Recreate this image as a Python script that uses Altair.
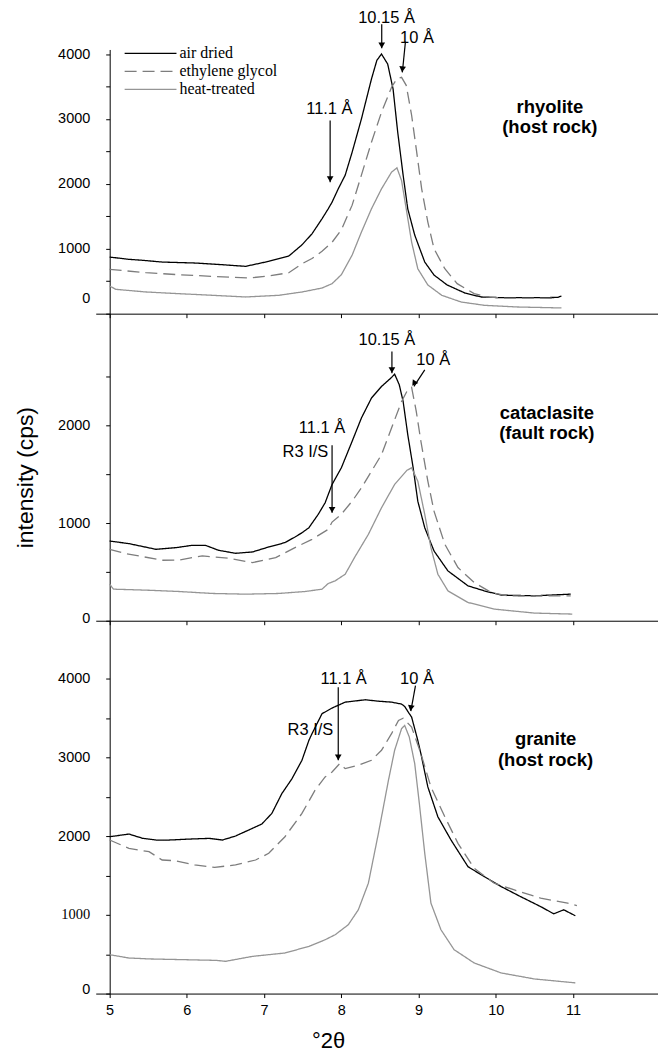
import altair as alt
import pandas as pd

SERIES = ["air dried", "ethylene glycol", "heat-treated"]
COLORS = ["#000000", "#7d7d7d", "#959595"]
DASHES = [[1, 0], [12, 6], [1, 0]]
WIDTHS = [1.3, 1.3, 1.7]
X_TICKS = [5, 6, 7, 8, 9, 10, 11]

# ---------------- rhyolite (host rock) ----------------
rh_ad_x = [5.0, 5.25, 5.43, 5.68, 6.11, 6.46, 6.76, 7.06, 7.32, 7.49, 7.62, 7.75, 7.83, 7.88, 7.96, 8.05, 8.14, 8.26, 8.39, 8.46, 8.52, 8.6, 8.67, 8.73, 8.8, 8.86, 8.95, 9.08, 9.2, 9.37, 9.6, 9.81, 10.07, 10.5, 10.8, 10.85]
rh_ad_y = [872, 837, 822, 795, 780, 754, 729, 806, 888, 1060, 1230, 1462, 1615, 1718, 1923, 2134, 2488, 3000, 3615, 3903, 4000, 3846, 3461, 2795, 2134, 1615, 1211, 795, 595, 442, 318, 257, 246, 246, 250, 272]
rh_eg_x = [5.0, 5.47, 5.9, 6.33, 6.8, 7.06, 7.32, 7.49, 7.62, 7.75, 7.88, 8.0, 8.14, 8.26, 8.39, 8.52, 8.65, 8.72, 8.78, 8.84, 8.91, 8.97, 9.04, 9.12, 9.2, 9.34, 9.5, 9.72, 9.9, 10.1, 10.78]
rh_eg_y = [683, 631, 600, 575, 549, 580, 631, 769, 850, 960, 1100, 1290, 1672, 2134, 2642, 3103, 3488, 3620, 3641, 3518, 3057, 2538, 1923, 1411, 1000, 692, 462, 308, 257, 240, 237]
rh_ht_x = [5.0, 5.08, 5.47, 5.9, 6.33, 6.76, 7.19, 7.49, 7.75, 7.88, 8.0, 8.14, 8.26, 8.39, 8.52, 8.65, 8.72, 8.78, 8.84, 8.91, 8.99, 9.12, 9.3, 9.55, 9.85, 10.28, 10.85]
rh_ht_y = [426, 375, 334, 308, 283, 257, 283, 334, 395, 462, 600, 903, 1257, 1615, 1923, 2180, 2246, 2050, 1615, 1103, 692, 442, 283, 180, 129, 103, 88]

# ---------------- cataclasite (fault rock) ----------------
ca_ad_x = [5.0, 5.25, 5.6, 5.86, 6.07, 6.24, 6.41, 6.63, 6.85, 7.06, 7.19, 7.27, 7.4, 7.49, 7.58, 7.7, 7.79, 7.88, 8.0, 8.14, 8.26, 8.39, 8.52, 8.65, 8.69, 8.75, 8.8, 8.86, 8.93, 8.99, 9.08, 9.2, 9.38, 9.64, 9.85, 10.07, 10.5, 10.97]
ca_ad_y = [816, 789, 731, 748, 772, 772, 721, 690, 704, 755, 782, 800, 857, 900, 952, 1088, 1207, 1395, 1565, 1837, 2075, 2279, 2398, 2490, 2524, 2415, 2245, 1905, 1565, 1224, 952, 714, 510, 357, 306, 262, 255, 272]
ca_eg_x = [5.0, 5.21, 5.38, 5.68, 5.9, 6.2, 6.54, 6.85, 7.15, 7.4, 7.62, 7.83, 7.88, 8.0, 8.14, 8.26, 8.39, 8.52, 8.65, 8.78, 8.85, 8.91, 8.97, 9.03, 9.12, 9.2, 9.34, 9.51, 9.72, 9.94, 10.15, 10.97]
ca_eg_y = [731, 687, 663, 619, 622, 663, 639, 595, 646, 748, 833, 935, 1010, 1090, 1224, 1360, 1530, 1700, 1973, 2245, 2350, 2388, 2143, 1837, 1429, 1122, 782, 544, 391, 289, 255, 255]
ca_ht_x = [5.0, 5.05, 5.47, 5.9, 6.33, 6.76, 7.19, 7.53, 7.75, 7.83, 7.92, 8.05, 8.17, 8.35, 8.52, 8.69, 8.85, 8.91, 8.99, 9.08, 9.16, 9.25, 9.38, 9.64, 9.98, 10.5, 10.99]
ca_ht_y = [374, 323, 313, 299, 279, 272, 279, 299, 323, 381, 408, 476, 646, 884, 1156, 1395, 1540, 1565, 1429, 1088, 748, 476, 306, 187, 119, 78, 68]

# ---------------- granite (host rock) ----------------
gr_ad_x = [5.0, 5.25, 5.43, 5.6, 5.77, 6.03, 6.29, 6.46, 6.63, 6.8, 6.97, 7.1, 7.23, 7.36, 7.49, 7.58, 7.62, 7.75, 7.88, 8.05, 8.31, 8.48, 8.65, 8.78, 8.82, 8.88, 8.91, 8.99, 9.03, 9.12, 9.25, 9.42, 9.64, 9.85, 10.07, 10.32, 10.58, 10.75, 10.88, 11.03]
gr_ad_y = [1994, 2028, 1973, 1952, 1952, 1964, 1973, 1952, 2003, 2079, 2155, 2290, 2543, 2730, 2966, 3219, 3304, 3558, 3630, 3705, 3735, 3717, 3705, 3680, 3650, 3558, 3515, 3219, 3050, 2627, 2247, 1952, 1613, 1487, 1360, 1233, 1106, 1014, 1065, 989]
gr_eg_x = [5.0, 5.25, 5.51, 5.68, 5.85, 6.1, 6.36, 6.63, 6.89, 7.06, 7.27, 7.49, 7.66, 7.79, 7.88, 7.98, 8.05, 8.22, 8.39, 8.52, 8.65, 8.74, 8.8, 8.91, 9.03, 9.16, 9.34, 9.51, 9.72, 9.98, 10.24, 10.58, 10.93, 11.05]
gr_eg_y = [1952, 1846, 1804, 1698, 1689, 1635, 1605, 1635, 1698, 1783, 1994, 2290, 2586, 2754, 2817, 2924, 2860, 2902, 2966, 3093, 3304, 3473, 3500, 3388, 3050, 2627, 2247, 1910, 1593, 1403, 1318, 1213, 1150, 1119]
gr_ht_x = [5.0, 5.25, 5.53, 5.96, 6.38, 6.5, 6.85, 7.27, 7.58, 7.79, 7.92, 8.09, 8.22, 8.35, 8.48, 8.61, 8.69, 8.78, 8.82, 8.88, 8.95, 9.01, 9.08, 9.16, 9.29, 9.46, 9.72, 10.07, 10.5, 11.03]
gr_ht_y = [494, 452, 440, 431, 422, 410, 473, 516, 600, 684, 748, 875, 1065, 1403, 2037, 2712, 3093, 3368, 3409, 3261, 2924, 2417, 1783, 1150, 811, 558, 389, 262, 186, 136]

# ---------------- annotations ----------------
rh_lab = ["10.15 Å", "10 Å", "11.1 Å"]
rh_lab_x = [8.585, 8.98, 7.845]
rh_lab_y = [4552, 4253, 3154]
rh_name = ["rhyolite", "(host rock)"]
rh_name_x = [10.7, 10.7]
rh_name_y = [3190, 2880]
rh_arr_x = [8.523, 8.83, 7.855]
rh_arr_y = [4457, 4191, 2975]
rh_arr_x2 = [8.523, 8.79, 7.855]
rh_arr_y2 = [4088, 3718, 2026]
rh_arr_ang = [0, 6, 0]

ca_lab = ["10.15 Å", "10 Å", "11.1 Å", "R3 I/S"]
ca_lab_x = [8.59, 9.19, 7.75, 7.535]
ca_lab_y = [2871, 2673, 1969, 1730]
ca_name = ["cataclasite", "(fault rock)"]
ca_name_x = [10.66, 10.66]
ca_name_y = [2130, 1918]
ca_arr_x = [8.655, 9.08, 7.88]
ca_arr_y = [2755, 2568, 1796]
ca_arr_x2 = [8.655, 8.94, 7.88]
ca_arr_y2 = [2534, 2398, 1105]
ca_arr_ang = [0, 34, 0]

gr_lab = ["11.1 Å", "R3 I/S", "10 Å"]
gr_lab_x = [8.03, 7.6, 8.98]
gr_lab_y = [3995, 3352, 3996]
gr_name = ["granite", "(host rock)"]
gr_name_x = [10.645, 10.645]
gr_name_y = [3233, 2973]
gr_arr_x = [7.96, 8.96]
gr_arr_y = [3895, 3916]
gr_arr_x2 = [7.96, 8.90]
gr_arr_y2 = [2966, 3591]
gr_arr_ang = [0, 10]


def lines_df(xs_list, ys_list):
    frames = [pd.DataFrame({"series": n, "x": xs, "y": ys}) for n, xs, ys in zip(SERIES, xs_list, ys_list)]
    return pd.concat(frames, ignore_index=True)


def make_panel(df, ymax, height, yvals, lab, lab_x, lab_y, name, name_x, name_y,
               ax, ay, ax2, ay2, ang, top=False, bottom=False, ytitle=False,
               zero_offset=0, serif1000=False):
    xscale = alt.Scale(domain=[4.82, 12.1], nice=False, zero=False)
    yscale = alt.Scale(domain=[0, ymax], nice=False, zero=False)
    xkw = dict(values=X_TICKS, format="d", labels=bottom, ticks=True, tickSize=4,
               labelPadding=6, labelFlush=False, labelOverlap=False, grid=False,
               labelFontSize=14.5, labelFont="Liberation Sans")
    if bottom:
        xkw.update(title="°2θ", titleFontSize=22, titleFontWeight="normal",
                   titleX=233, titleY=47, titleBaseline="middle", titleAlign="center")
    else:
        xkw.update(title=None)
    ykw = dict(values=yvals, labelExpr="datum.value % 1000 == 0 ? datum.label : ''",
               format="d", offset=-14, tickSize=4, labelPadding=16, grid=False,
               labelFlush=False, labelOverlap=False, labelFontSize=14.5,
               labelFont="Liberation Sans",
               labelOffset={"condition": {"test": "datum.value == 0", "value": zero_offset}, "value": 0})
    if serif1000:
        ykw["labelFont"] = {"condition": {"test": "datum.value == 1000", "value": "Liberation Serif"},
                            "value": "Liberation Sans"}
    if ytitle:
        ykw.update(title="intensity (cps)", titleFontSize=23, titleFontWeight="normal",
                   titlePadding=20, titleY=164)
    else:
        ykw.update(title=None)
    X = alt.X("x:Q", scale=xscale, axis=alt.Axis(**xkw))
    Y = alt.Y("y:Q", scale=yscale, axis=alt.Axis(**ykw))

    if top:
        leg = alt.Legend(orient="none", legendX=47, legendY=-4, title=None,
                         symbolType="M-4,0H4", symbolSize=169, symbolStrokeWidth=1.4,
                         labelFont="Liberation Serif", labelFontSize=16, labelColor="black",
                         labelOffset=21, rowPadding=2, padding=0)
    else:
        leg = None
    color = alt.Color("series:N", scale=alt.Scale(domain=SERIES, range=COLORS), legend=leg, sort=SERIES)
    dash = alt.StrokeDash("series:N", scale=alt.Scale(domain=SERIES, range=DASHES), legend=leg, sort=SERIES)
    width = alt.StrokeWidth("series:N", scale=alt.Scale(domain=SERIES, range=WIDTHS), legend=None)

    lines = alt.Chart(df).mark_line().encode(x=X, y=Y, color=color, strokeDash=dash, strokeWidth=width)

    tdf = pd.DataFrame({"label": lab, "x": lab_x, "y": lab_y})
    texts = alt.Chart(tdf).mark_text(font="Liberation Sans", fontSize=16.5, color="black",
                                     baseline="middle", align="center").encode(x=X, y=Y, text="label:N")
    ndf = pd.DataFrame({"label": name, "x": name_x, "y": name_y})
    names = alt.Chart(ndf).mark_text(font="Liberation Sans", fontSize=18.5, fontWeight="bold",
                                     color="black", baseline="middle", align="center").encode(x=X, y=Y, text="label:N")
    adf = pd.DataFrame({"x": ax, "y": ay, "x2": ax2, "y2": ay2})
    rules = alt.Chart(adf).mark_rule(color="black", strokeWidth=1.2).encode(x=X, y=Y, x2="x2:Q", y2="y2:Q")
    hdf = pd.DataFrame({"x": ax2, "y": ay2, "angle": ang})
    heads = alt.Chart(hdf).mark_point(shape="triangle-down", filled=True, size=45, color="black",
                                      opacity=1, yOffset=-3).encode(x=X, y=Y, angle=alt.Angle("angle:Q", scale=None))
    return alt.layer(lines, rules, heads, texts, names).properties(width=564, height=height)


top = make_panel(lines_df([rh_ad_x, rh_eg_x, rh_ht_x], [rh_ad_y, rh_eg_y, rh_ht_y]),
                 4070, 265, list(range(0, 4001, 500)),
                 rh_lab, rh_lab_x, rh_lab_y, rh_name, rh_name_x, rh_name_y,
                 rh_arr_x, rh_arr_y, rh_arr_x2, rh_arr_y2, rh_arr_ang, top=True, zero_offset=-15)
mid = make_panel(lines_df([ca_ad_x, ca_eg_x, ca_ht_x], [ca_ad_y, ca_eg_y, ca_ht_y]),
                 3143, 308, list(range(0, 2501, 500)),
                 ca_lab, ca_lab_x, ca_lab_y, ca_name, ca_name_x, ca_name_y,
                 ca_arr_x, ca_arr_y, ca_arr_x2, ca_arr_y2, ca_arr_ang, ytitle=True, zero_offset=-2)
bot = make_panel(lines_df([gr_ad_x, gr_eg_x, gr_ht_x], [gr_ad_y, gr_eg_y, gr_ht_y]),
                 4740, 374, list(range(0, 4001, 500)),
                 gr_lab, gr_lab_x, gr_lab_y, gr_name, gr_name_x, gr_name_y,
                 gr_arr_x, gr_arr_y, gr_arr_x2, gr_arr_y2, gr_arr_ang, bottom=True,
                 zero_offset=-4, serif1000=True)

chart = alt.vconcat(top, mid, bot, spacing=0, bounds="flush").resolve_scale(
    x="independent", y="independent", color="independent", strokeDash="independent",
    strokeWidth="independent"
).resolve_legend(color="independent", strokeDash="independent").configure_view(
    stroke=None
).configure_axis(
    domainColor="black", tickColor="black", labelColor="black", titleColor="black",
    titleFont="Liberation Sans", domainWidth=1, tickWidth=1
).properties(padding={"left": 6, "top": 0, "right": 0, "bottom": 0})

chart.save("out.html", embed_options={"renderer": "svg", "actions": False})
